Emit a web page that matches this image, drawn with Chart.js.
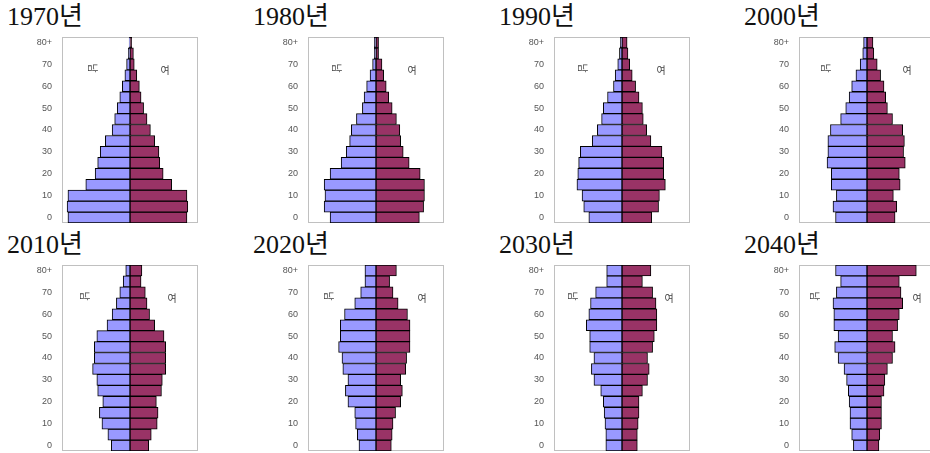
<!DOCTYPE html>
<html>
<head>
<meta charset="utf-8">
<script src="https://cdn.jsdelivr.net/npm/chart.js@4.4.0/dist/chart.umd.min.js"></script>
<style>
body { margin: 0; width: 930px; height: 453px; overflow: hidden; background: #fff; position: relative; }
.title { position: absolute; font-family: "Liberation Serif", "Noto Sans CJK KR", serif; font-size: 26px; line-height: 26px; color: #111; white-space: nowrap; }
canvas { position: absolute; }
</style>
</head>
<body>
<script>
// age groups, bottom to top
var ageGroups = ['0', '5', '10', '15', '20', '25', '30', '35', '40', '45', '50', '55', '60', '65', '70', '75', '80+'];
var years = ['1970년', '1980년', '1990년', '2000년', '2010년', '2020년', '2030년', '2040년'];

// share of population (%), age 0 -> 80+
var male1970   = [7.3, 7.4, 7.3, 5.2, 4.1, 3.8, 3.5, 2.9, 2.1, 1.8, 1.5, 1.2, 0.9, 0.6, 0.4, 0.2, 0.1];
var female1970 = [6.7, 6.8, 6.7, 4.9, 3.9, 3.5, 3.4, 2.9, 2.4, 2.0, 1.6, 1.3, 1.1, 0.8, 0.5, 0.4, 0.2];
var male1980   = [5.4, 6.1, 6.0, 6.1, 5.4, 4.1, 3.5, 3.1, 2.9, 2.3, 1.6, 1.4, 1.1, 0.7, 0.4, 0.2, 0.2];
var female1980 = [5.1, 5.6, 5.7, 5.7, 5.2, 3.9, 3.2, 2.9, 2.8, 2.4, 1.9, 1.5, 1.2, 0.9, 0.7, 0.3, 0.3];
var male1990   = [3.9, 4.5, 4.7, 5.3, 5.2, 5.1, 4.9, 3.5, 2.9, 2.4, 2.2, 1.7, 1.0, 0.8, 0.5, 0.3, 0.2];
var female1990 = [3.5, 4.3, 4.4, 5.1, 4.9, 4.9, 4.7, 3.4, 2.9, 2.5, 2.4, 2.0, 1.6, 1.2, 0.9, 0.7, 0.6];
var male2000   = [3.7, 4.0, 3.6, 4.2, 4.2, 4.7, 4.6, 4.6, 4.3, 3.1, 2.5, 2.1, 1.8, 1.3, 0.8, 0.5, 0.4];
var female2000 = [3.3, 3.5, 3.1, 3.9, 3.8, 4.5, 4.3, 4.4, 4.2, 3.0, 2.4, 2.2, 2.0, 1.6, 1.2, 0.8, 0.7];
var male2010   = [2.2, 2.6, 3.3, 3.6, 3.2, 3.8, 3.9, 4.4, 4.2, 4.2, 3.9, 2.7, 2.1, 1.6, 1.2, 0.8, 0.5];
var female2010 = [2.2, 2.5, 3.2, 3.3, 3.1, 3.7, 3.8, 4.2, 4.2, 4.2, 4.0, 2.9, 2.3, 2.0, 1.8, 1.3, 1.4];
var male2020   = [2.0, 2.2, 2.4, 2.5, 3.3, 3.6, 3.3, 3.9, 4.0, 4.4, 4.2, 4.2, 3.7, 2.5, 1.8, 1.3, 1.3];
var female2020 = [1.8, 1.9, 2.0, 2.3, 2.9, 3.1, 2.9, 3.5, 3.6, 4.0, 4.0, 4.0, 3.7, 2.6, 2.0, 1.6, 2.4];
var male2030   = [1.9, 1.9, 2.0, 2.1, 2.2, 2.5, 3.3, 3.6, 3.3, 3.8, 3.8, 4.2, 3.9, 3.7, 3.1, 1.8, 1.8];
var female2030 = [1.8, 1.8, 1.9, 2.0, 2.0, 2.4, 3.0, 3.2, 3.0, 3.6, 3.8, 4.1, 4.1, 4.0, 3.6, 2.4, 3.4];
var male2040   = [1.6, 1.8, 2.0, 2.0, 2.1, 2.2, 2.4, 2.7, 3.4, 3.8, 3.4, 3.9, 3.9, 4.0, 3.6, 3.1, 3.7];
var female2040 = [1.4, 1.5, 1.7, 1.7, 1.7, 2.0, 2.1, 2.4, 3.0, 3.3, 3.0, 3.6, 3.8, 4.2, 4.0, 3.8, 5.8];

var maleSets = [male1970, male1980, male1990, male2000, male2010, male2020, male2030, male2040];
var femaleSets = [female1970, female1980, female1990, female2000, female2010, female2020, female2030, female2040];

// layout of the 2x4 grid (plot box left / top)
var boxLeft = [62, 308, 554, 799];
var boxTop = [37, 265];
var boxW = 136, boxH = 186;
var axisW = 44, padR = 4, padV = 4;
// where the 남 / 여 labels sit inside each box
var maleLabelX = [31, 29, 29, 27, 23, 21, 19, 16];
var femaleLabelX = [103, 104, 107, 108, 110, 114, 115, 118];

var boxPlugin = {
    id: 'box',
    beforeDatasetsDraw: function (chart) {
        var a = chart.chartArea, ctx = chart.ctx;
        ctx.save();
        ctx.strokeStyle = '#c0c0c0';
        ctx.lineWidth = 1;
        ctx.strokeRect(Math.round(a.left) + 0.5, Math.round(a.top) + 0.5,
            Math.round(a.right - a.left) - 1, Math.round(a.bottom - a.top) - 1);
        ctx.restore();
    },
    afterDraw: function (chart, args, opts) {
        var a = chart.chartArea, ctx = chart.ctx;
        ctx.save();
        ctx.fillStyle = '#444';
        ctx.font = '10px "Noto Sans CJK KR", sans-serif';
        ctx.textAlign = 'center';
        ctx.textBaseline = 'middle';
        ctx.translate(a.left + opts.mx, a.top + 31);
        ctx.rotate(Math.PI / 2);
        ctx.fillText('남', 0, 0);
        ctx.restore();
        ctx.save();
        ctx.fillStyle = '#444';
        ctx.font = '10px "Noto Sans CJK KR", sans-serif';
        ctx.textAlign = 'center';
        ctx.textBaseline = 'middle';
        ctx.fillText('여', a.left + opts.fx, a.top + 33);
        ctx.restore();
    }
};

for (var i = 0; i < years.length; i++) {
    var col = i % 4, row = Math.floor(i / 4);

    var title = document.createElement('div');
    title.className = 'title';
    title.textContent = years[i];
    title.style.left = (boxLeft[col] - 55) + 'px';
    title.style.top = (boxTop[row] - 33) + 'px';
    document.body.appendChild(title);

    var cv = document.createElement('canvas');
    cv.width = axisW + boxW + padR;
    cv.height = boxH + padV * 2;
    cv.style.left = (boxLeft[col] - axisW) + 'px';
    cv.style.top = (boxTop[row] - padV) + 'px';
    document.body.appendChild(cv);

    new Chart(cv, {
        type: 'bar',
        data: {
            labels: ageGroups,
            datasets: [{
                label: '남',
                data: maleSets[i].map(function (v) { return -v; }),
                backgroundColor: '#9999ff',
                borderColor: '#000',
                borderWidth: 1,
                borderSkipped: false,
                categoryPercentage: 1,
                barPercentage: 1
            }, {
                label: '여',
                data: femaleSets[i],
                backgroundColor: '#993366',
                borderColor: '#000',
                borderWidth: 1,
                borderSkipped: false,
                categoryPercentage: 1,
                barPercentage: 1
            }]
        },
        options: {
            indexAxis: 'y',
            responsive: false,
            animation: false,
            layout: { padding: { left: 0, right: padR, top: padV, bottom: padV } },
            plugins: {
                legend: { display: false },
                tooltip: { enabled: false },
                box: { mx: maleLabelX[i], fx: femaleLabelX[i] }
            },
            scales: {
                x: {
                    display: false,
                    stacked: true,
                    min: -8,
                    max: 8
                },
                y: {
                    stacked: true,
                    reverse: true,
                    grid: { display: false, drawTicks: false },
                    border: { display: false },
                    afterFit: function (scale) {
                        scale.width = axisW;
                        scale.paddingTop = 0;
                        scale.paddingBottom = 0;
                    },
                    ticks: {
                        autoSkip: false,
                        padding: 10,
                        color: '#555',
                        font: { family: '"Liberation Sans Narrow", "Liberation Sans", sans-serif', size: 9 },
                        callback: function (value, index) {
                            return index % 2 === 0 ? ageGroups[index] : '';
                        }
                    }
                }
            }
        },
        plugins: [boxPlugin]
    });
}
</script>
</body>
</html>
